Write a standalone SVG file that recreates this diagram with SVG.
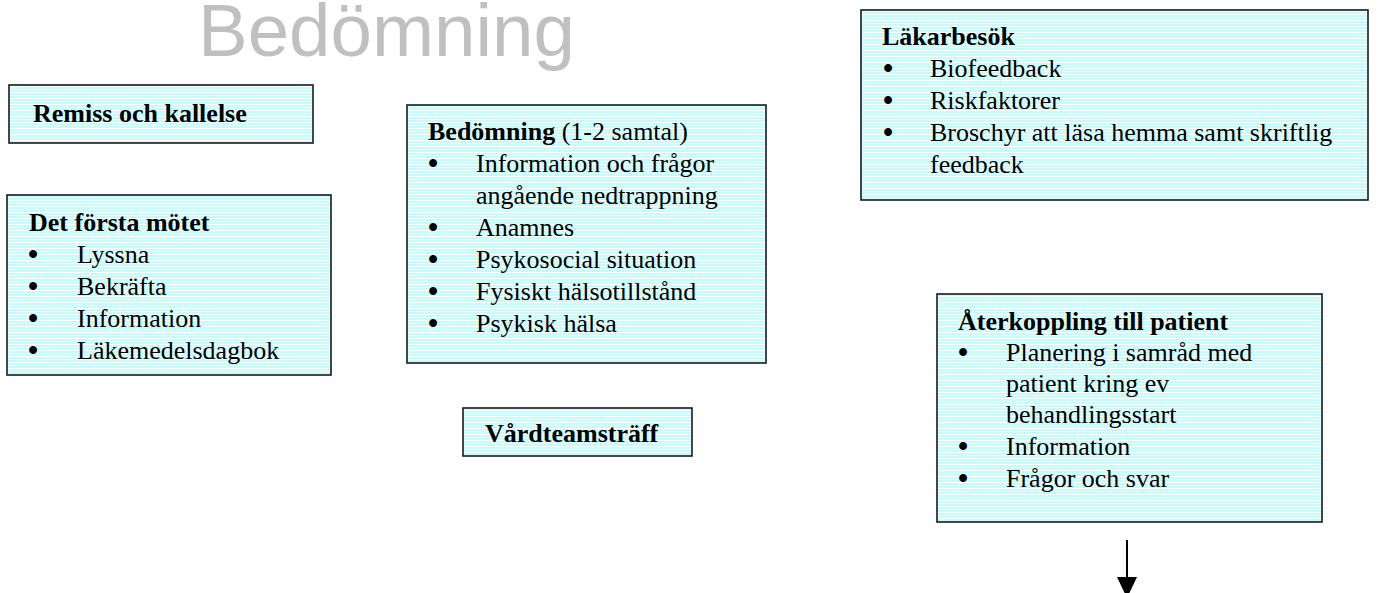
<svg xmlns="http://www.w3.org/2000/svg" width="1378" height="593" viewBox="0 0 1378 593">
<defs>
<pattern id="stripes" patternUnits="userSpaceOnUse" width="6" height="3">
<rect x="0" y="0" width="6" height="3" fill="#c6fcfc"/>
<rect x="0" y="2" width="6" height="1" fill="#ffffff"/>
</pattern>
<style>
.box{fill:url(#stripes);stroke:#1a1a1a;stroke-width:1.6}
.t{font-family:"Liberation Serif","Times New Roman",serif;font-size:26px;fill:#000}
.b{font-weight:bold}
.bul{font-size:29px;font-weight:bold}
.title{font-family:"Liberation Sans",Arial,sans-serif;font-size:74.5px;fill:#c0c0c0}
.conn{stroke:#000;stroke-width:2;fill:none}
</style>
</defs>
<rect width="1378" height="593" fill="#fff"/>
<text class="title" x="198" y="56">Bedömning</text>

<g id="remiss">
<rect class="box" x="9" y="85" width="304" height="58"/>
<text class="t b" x="33" y="122">Remiss och kallelse</text>
</g>

<g id="forsta-motet">
<rect class="box" x="7" y="195" width="324" height="180"/>
<text class="t b" x="29" y="231">Det första mötet</text>
<text class="t" x="28" y="263"><tspan class="bul" dy="1">•</tspan><tspan x="77" dy="-1">Lyssna</tspan></text>
<text class="t" x="28" y="295"><tspan class="bul" dy="1">•</tspan><tspan x="77" dy="-1">Bekräfta</tspan></text>
<text class="t" x="28" y="327"><tspan class="bul" dy="1">•</tspan><tspan x="77" dy="-1">Information</tspan></text>
<text class="t" x="28" y="359"><tspan class="bul" dy="1">•</tspan><tspan x="77" dy="-1">Läkemedelsdagbok</tspan></text>
</g>

<g id="bedomning">
<rect class="box" x="407" y="105" width="359" height="258"/>
<text class="t" x="428" y="140"><tspan class="b">Bedömning</tspan> (1-2 samtal)</text>
<text class="t" x="428" y="172"><tspan class="bul" dy="1">•</tspan><tspan x="476" dy="-1">Information och frågor</tspan></text>
<text class="t" x="476" y="204">angående nedtrappning</text>
<text class="t" x="428" y="236"><tspan class="bul" dy="1">•</tspan><tspan x="476" dy="-1">Anamnes</tspan></text>
<text class="t" x="428" y="268"><tspan class="bul" dy="1">•</tspan><tspan x="476" dy="-1">Psykosocial situation</tspan></text>
<text class="t" x="428" y="300"><tspan class="bul" dy="1">•</tspan><tspan x="476" dy="-1">Fysiskt hälsotillstånd</tspan></text>
<text class="t" x="428" y="332"><tspan class="bul" dy="1">•</tspan><tspan x="476" dy="-1">Psykisk hälsa</tspan></text>
</g>

<g id="vardteamstraff">
<rect class="box" x="463" y="408" width="229" height="48"/>
<text class="t b" x="485" y="442">Vårdteamsträff</text>
</g>

<g id="lakarbesok">
<rect class="box" x="861" y="10" width="507" height="190"/>
<text class="t b" x="882" y="45">Läkarbesök</text>
<text class="t" x="883" y="77"><tspan class="bul" dy="1">•</tspan><tspan x="930" dy="-1">Biofeedback</tspan></text>
<text class="t" x="883" y="109"><tspan class="bul" dy="1">•</tspan><tspan x="930" dy="-1">Riskfaktorer</tspan></text>
<text class="t" x="883" y="141"><tspan class="bul" dy="1">•</tspan><tspan x="930" dy="-1">Broschyr att läsa hemma samt skriftlig</tspan></text>
<text class="t" x="930" y="173">feedback</text>
</g>

<g id="aterkoppling">
<rect class="box" x="937" y="294" width="385" height="228"/>
<text class="t b" x="958" y="330">Återkoppling till patient</text>
<text class="t" x="958" y="361"><tspan class="bul" dy="1">•</tspan><tspan x="1006" dy="-1">Planering i samråd med</tspan></text>
<text class="t" x="1006" y="392">patient kring ev</text>
<text class="t" x="1006" y="423">behandlingsstart</text>
<text class="t" x="958" y="455"><tspan class="bul" dy="1">•</tspan><tspan x="1006" dy="-1">Information</tspan></text>
<text class="t" x="958" y="487"><tspan class="bul" dy="1">•</tspan><tspan x="1006" dy="-1">Frågor och svar</tspan></text>
</g>

<g id="connectors">
<line class="conn" x1="1127" y1="540" x2="1127" y2="579"/>
<polygon points="1117,577 1137,577 1127,598" fill="#000"/>
</g>
</svg>
